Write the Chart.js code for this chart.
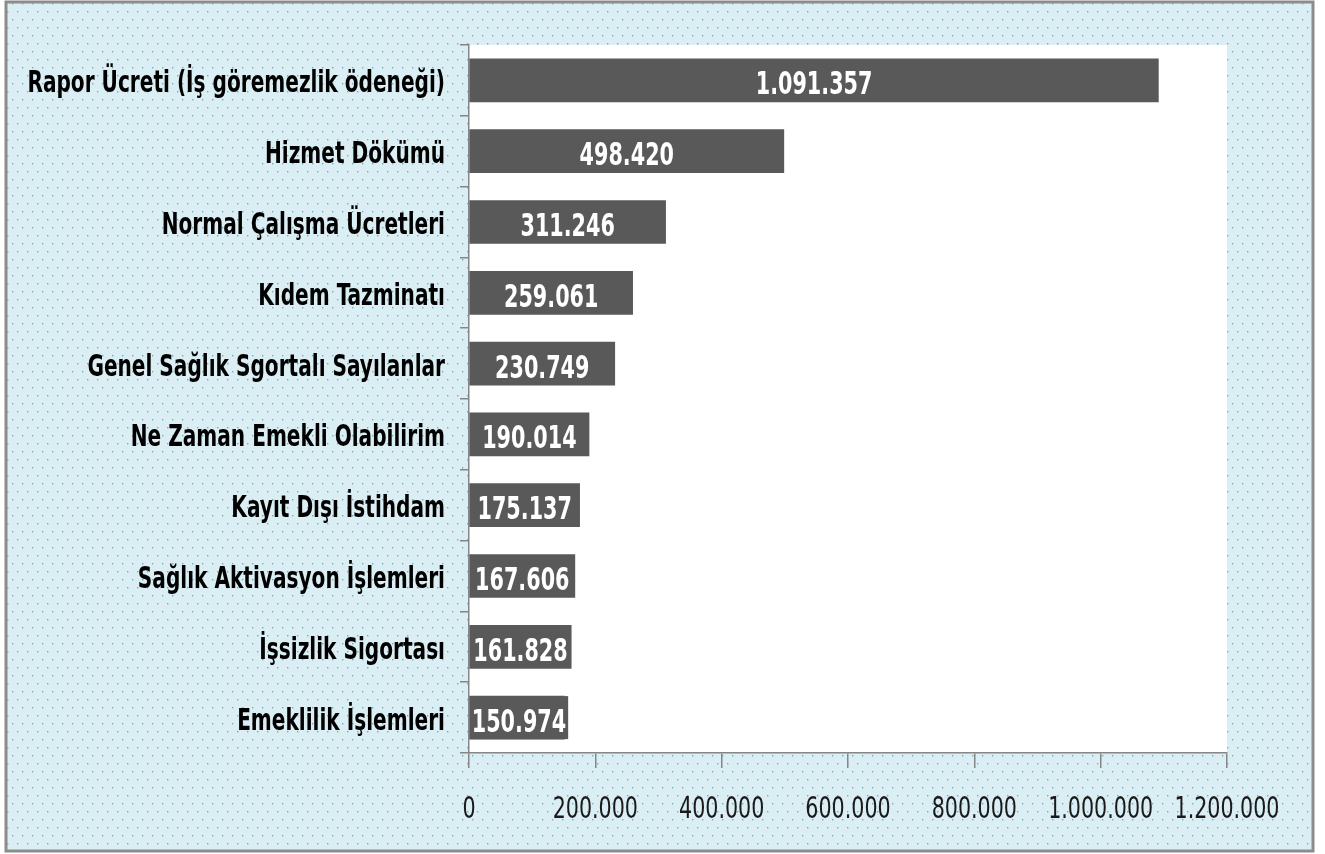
<!DOCTYPE html>
<html>
<head>
<meta charset="utf-8">
<script src="https://cdn.jsdelivr.net/npm/chart.js@4.4.1/dist/chart.umd.min.js"></script>
<style>
  html, body { margin: 0; padding: 0; background: #ffffff; }
  #wrap { width: 1325px; height: 854px; position: relative; }
</style>
</head>
<body>
<div id="wrap"><canvas id="myChart" width="1325" height="854"></canvas></div>
<script>
// Data
const categories = [
  'Rapor Ücreti (İş göremezlik ödeneği)',
  'Hizmet Dökümü',
  'Normal Çalışma Ücretleri',
  'Kıdem Tazminatı',
  'Genel Sağlık Sgortalı Sayılanlar',
  'Ne Zaman Emekli Olabilirim',
  'Kayıt Dışı İstihdam',
  'Sağlık Aktivasyon İşlemleri',
  'İşsizlik Sigortası',
  'Emeklilik İşlemleri'
];
const values = [1091357, 498420, 311246, 259061, 230749, 190014, 175137, 167606, 161828, 150974];
const axisMax = 1200000;
const axisStep = 200000;

const FONT = "'DejaVu Sans Condensed', 'DejaVu Sans', sans-serif";

// Turkish style number formatting: 1.091.357
function fmt(v) {
  return String(Math.round(v)).replace(/\B(?=(\d{3})+(?!\d))/g, '.');
}

// tall, narrow text (the original uses a condensed font)
function narrowText(ctx, txt, x, y, sx) {
  ctx.save();
  ctx.translate(x, y);
  ctx.scale(sx, 1);
  ctx.fillText(txt, 0, 0);
  ctx.restore();
}

// dotted light blue pattern
function makePattern(ctx) {
  const tile = document.createElement('canvas');
  tile.width = 10; tile.height = 16;
  const t = tile.getContext('2d');
  t.fillStyle = '#dbeef4';
  t.fillRect(0, 0, 10, 16);
  t.fillStyle = '#5cb6cf';
  t.fillRect(2, 3, 1.4, 1.4);
  t.fillRect(7, 11, 1.4, 1.4);
  return ctx.createPattern(tile, 'repeat');
}

// background + white plot area
const backgroundPlugin = {
  id: 'bg',
  beforeDraw(chart) {
    const { ctx, chartArea } = chart;
    ctx.save();
    ctx.fillStyle = '#ffffff';
    ctx.fillRect(0, 0, chart.width, chart.height);
    ctx.fillStyle = makePattern(ctx);
    ctx.fillRect(6, 2, 1307, 849);
    ctx.strokeStyle = '#8c8c8c';
    ctx.lineWidth = 3;
    ctx.strokeRect(6, 2, 1307, 849);
    ctx.fillStyle = '#ffffff';
    ctx.fillRect(chartArea.left, chartArea.top, chartArea.right - chartArea.left, chartArea.bottom - chartArea.top);
    ctx.restore();
  }
};

// axis labels drawn narrow
const axisLabels = {
  id: 'axisLabels',
  afterDraw(chart) {
    const { ctx } = chart;
    const ys = chart.scales.y, xs = chart.scales.x;
    ctx.save();
    ctx.fillStyle = '#000000';
    ctx.font = 'bold 30px ' + FONT;
    ctx.textAlign = 'right';
    ctx.textBaseline = 'alphabetic';
    categories.forEach((c, i) => {
      narrowText(ctx, c, 445, ys.getPixelForValue(i) + 12, 0.745);
    });
    ctx.fillStyle = '#1a1a1a';
    ctx.font = '31px ' + FONT;
    ctx.textAlign = 'center';
    xs.ticks.forEach((t) => {
      narrowText(ctx, fmt(t.value), xs.getPixelForValue(t.value), 818, 0.74);
    });
    ctx.restore();
  }
};

// white value labels centred on each bar
const valueLabels = {
  id: 'valueLabels',
  afterDatasetsDraw(chart) {
    const { ctx } = chart;
    const meta = chart.getDatasetMeta(0);
    const sx = 0.72;
    ctx.save();
    ctx.font = 'bold 32px ' + FONT;
    ctx.textAlign = 'center';
    ctx.textBaseline = 'alphabetic';
    meta.data.forEach((bar, i) => {
      const x0 = bar.base, x1 = bar.x;
      const txt = fmt(values[i]);
      const w = ctx.measureText(txt).width * sx;
      let cx = (x0 + x1) / 2;
      if (w + 4 > x1 - x0) {
        cx = x0 + 2 + w / 2;
        ctx.fillStyle = '#595959';
        ctx.fillRect(x0, bar.y - bar.height / 2, w + 4, bar.height);
      }
      ctx.fillStyle = '#ffffff';
      narrowText(ctx, txt, cx, bar.y + 14, sx);
    });
    ctx.restore();
  }
};

const ctx = document.getElementById('myChart').getContext('2d');

const config = {
  type: 'bar',
  data: {
    labels: categories,
    datasets: [{
      data: values,
      backgroundColor: '#595959',
      borderWidth: 0,
      barThickness: 43
    }]
  },
  options: {
    indexAxis: 'y',
    responsive: false,
    animation: false,
    layout: { padding: { left: 6, top: 45, right: 98, bottom: 0 } },
    plugins: {
      legend: { display: false },
      tooltip: { enabled: false }
    },
    scales: {
      x: {
        min: 0,
        max: axisMax,
        ticks: {
          stepSize: axisStep,
          display: false
        },
        grid: {
          drawOnChartArea: false,
          drawTicks: true,
          tickLength: 15,
          color: '#868686',
          lineWidth: 1.5
        },
        border: { color: '#868686', width: 1.5 },
        afterFit(scale) { scale.height = 101; }
      },
      y: {
        ticks: { display: false },
        grid: {
          offset: true,
          drawOnChartArea: false,
          drawTicks: true,
          tickLength: 9,
          color: '#868686',
          lineWidth: 1.5
        },
        border: { color: '#868686', width: 1.5 },
        afterFit(scale) { scale.width = 463; }
      }
    }
  },
  plugins: [backgroundPlugin, valueLabels, axisLabels]
};

const mychart = new Chart(ctx, config);
</script>
</body>
</html>
